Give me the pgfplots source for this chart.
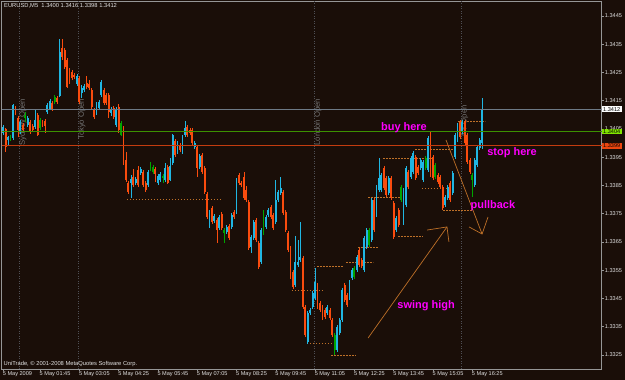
\documentclass[border=0pt]{standalone}
\usepackage{pgfplots}
\pgfplotsset{compat=1.18}
\usepackage{pgfplotstable}
\usepackage{fontspec}
\setmainfont{Liberation Sans}
\definecolor{bgc}{RGB}{26,14,8}
\definecolor{bullc}{RGB}{32,182,226}
\definecolor{bearc}{RGB}{250,76,14}
\definecolor{dojic}{RGB}{0,165,0}
\definecolor{framec}{RGB}{150,150,150}
\definecolor{txtc}{RGB}{225,225,225}
\definecolor{sessc}{RGB}{80,80,85}
\definecolor{sesstxt}{RGB}{115,115,115}
\definecolor{annc}{RGB}{190,112,40}
\definecolor{bidc}{RGB}{110,122,134}
\definecolor{buyc}{RGB}{60,145,0}
\definecolor{stopc}{RGB}{195,60,15}
\definecolor{magc}{RGB}{255,0,255}
\definecolor{buybox}{RGB}{130,230,0}
\definecolor{stopbox}{RGB}{235,70,15}

% bull candles: t open high low close
\pgfplotstableread{
t o h l c
6 1.34036 1.34064 1.34029 1.34057
8 1.34011 1.34025 1.33993 1.34022
10 1.34018 1.34138 1.34011 1.34135
13 1.34039 1.34082 1.34032 1.34075
16 1.34064 1.34096 1.34057 1.34089
19 1.34057 1.34117 1.34050 1.34082
24 1.34110 1.34142 1.34103 1.34135
25 1.34121 1.34156 1.34117 1.34149
29 1.34167 1.34369 1.34163 1.34323
36 1.34209 1.34245 1.34202 1.34238
38 1.34177 1.34206 1.34160 1.34195
39 1.34188 1.34209 1.34181 1.34202
44 1.34107 1.34146 1.34100 1.34135
45 1.34124 1.34153 1.34117 1.34146
46 1.34170 1.34223 1.34163 1.34216
50 1.34107 1.34128 1.34096 1.34121
52 1.34064 1.34128 1.34057 1.34121
58 1.33859 1.33887 1.33806 1.33873
60 1.33859 1.33880 1.33852 1.33873
62 1.33894 1.33915 1.33887 1.33908
65 1.33852 1.33905 1.33845 1.33898
69 1.33859 1.33891 1.33852 1.33884
70 1.33869 1.33898 1.33862 1.33891
72 1.33869 1.33930 1.33862 1.33912
74 1.33869 1.33947 1.33866 1.33919
75 1.33930 1.34032 1.33923 1.34029
77 1.33969 1.34007 1.33961 1.34000
79 1.33969 1.34029 1.33961 1.34022
80 1.34029 1.34078 1.34022 1.34053
84 1.33986 1.34007 1.33979 1.34000
86 1.33915 1.33961 1.33908 1.33954
90 1.33728 1.33763 1.33699 1.33756
92 1.33724 1.33749 1.33717 1.33742
94 1.33699 1.33746 1.33692 1.33738
97 1.33685 1.33710 1.33678 1.33703
99 1.33703 1.33753 1.33696 1.33746
101 1.33756 1.33876 1.33749 1.33869
107 1.33632 1.33675 1.33611 1.33668
108 1.33664 1.33728 1.33657 1.33721
111 1.33579 1.33699 1.33572 1.33692
113 1.33703 1.33746 1.33696 1.33738
114 1.33746 1.33770 1.33738 1.33763
117 1.33721 1.33869 1.33714 1.33799
118 1.33799 1.33834 1.33792 1.33827
119 1.33823 1.33880 1.33816 1.33841
125 1.33498 1.33671 1.33491 1.33579
126 1.33569 1.33657 1.33561 1.33579
127 1.33586 1.33721 1.33579 1.33597
130 1.33296 1.33406 1.33289 1.33399
131 1.33399 1.33416 1.33392 1.33409
132 1.33420 1.33476 1.33413 1.33469
133 1.33452 1.33558 1.33445 1.33508
138 1.33399 1.33427 1.33392 1.33420
142 1.33268 1.33356 1.33261 1.33349
143 1.33328 1.33381 1.33321 1.33374
144 1.33374 1.33487 1.33367 1.33480
147 1.33452 1.33515 1.33445 1.33508
148 1.33522 1.33558 1.33515 1.33551
150 1.33551 1.33604 1.33544 1.33597
153 1.33551 1.33671 1.33544 1.33664
154 1.33632 1.33699 1.33625 1.33692
156 1.33657 1.33806 1.33650 1.33799
158 1.33746 1.33852 1.33738 1.33845
159 1.33834 1.33947 1.33827 1.33876
160 1.33834 1.33894 1.33827 1.33887
163 1.33823 1.33884 1.33816 1.33876
166 1.33692 1.33742 1.33685 1.33735
169 1.33717 1.33841 1.33710 1.33834
170 1.33781 1.33919 1.33774 1.33912
172 1.33880 1.33954 1.33873 1.33947
173 1.33898 1.33972 1.33891 1.33965
176 1.33912 1.33947 1.33905 1.33940
177 1.33869 1.33940 1.33862 1.33933
179 1.33905 1.34025 1.33898 1.34018
186 1.33781 1.33816 1.33774 1.33809
187 1.33806 1.33852 1.33799 1.33845
189 1.33823 1.33901 1.33816 1.33894
190 1.33951 1.34036 1.33944 1.34029
191 1.34011 1.34071 1.34004 1.34064
193 1.34039 1.34082 1.34032 1.34075
198 1.33852 1.33947 1.33845 1.33940
199 1.33923 1.33993 1.33915 1.33986
200 1.33983 1.34018 1.33976 1.34011
201 1.34000 1.34160 1.33980 1.34120
}\bullT

% bear candles
\pgfplotstableread{
t o h l c
7 1.34050 1.34053 1.33969 1.33986
11 1.34124 1.34131 1.34100 1.34107
12 1.34089 1.34096 1.34022 1.34046
14 1.34064 1.34071 1.34039 1.34046
17 1.34075 1.34082 1.34032 1.34039
18 1.34061 1.34068 1.34039 1.34046
20 1.34100 1.34107 1.34025 1.34029
22 1.34078 1.34082 1.34057 1.34064
23 1.34078 1.34085 1.34036 1.34061
26 1.34142 1.34149 1.34114 1.34121
28 1.34160 1.34167 1.34138 1.34146
30 1.34337 1.34369 1.34294 1.34305
31 1.34330 1.34337 1.34262 1.34269
32 1.34294 1.34301 1.34195 1.34199
33 1.34234 1.34266 1.34209 1.34216
34 1.34252 1.34259 1.34223 1.34230
35 1.34241 1.34248 1.34227 1.34234
37 1.34230 1.34238 1.34138 1.34146
40 1.34213 1.34238 1.34192 1.34199
41 1.34209 1.34223 1.34188 1.34195
42 1.34188 1.34195 1.34117 1.34128
43 1.34117 1.34124 1.34085 1.34092
47 1.34188 1.34195 1.34135 1.34142
48 1.34170 1.34177 1.34135 1.34142
49 1.34170 1.34177 1.34089 1.34110
51 1.34124 1.34131 1.34085 1.34092
53 1.34128 1.34138 1.34036 1.34046
55 1.34053 1.34061 1.33923 1.33930
56 1.33940 1.33969 1.33862 1.33869
57 1.33859 1.33866 1.33820 1.33827
59 1.33880 1.33908 1.33845 1.33852
61 1.33905 1.33919 1.33845 1.33852
63 1.33898 1.33905 1.33845 1.33852
64 1.33859 1.33866 1.33827 1.33834
68 1.33908 1.33915 1.33862 1.33891
73 1.33915 1.33923 1.33855 1.33859
76 1.34007 1.34015 1.33951 1.33958
78 1.33993 1.34000 1.33969 1.33976
81 1.34057 1.34064 1.34022 1.34029
82 1.34046 1.34053 1.34029 1.34036
83 1.34046 1.34053 1.33993 1.34000
85 1.33986 1.33993 1.33880 1.33912
87 1.33958 1.33965 1.33891 1.33898
88 1.33912 1.33919 1.33820 1.33827
89 1.33820 1.33827 1.33731 1.33738
91 1.33770 1.33777 1.33714 1.33721
93 1.33728 1.33735 1.33646 1.33692
95 1.33749 1.33756 1.33692 1.33699
98 1.33707 1.33714 1.33657 1.33664
100 1.33756 1.33763 1.33731 1.33738
102 1.33887 1.33894 1.33852 1.33859
103 1.33859 1.33866 1.33845 1.33852
104 1.33880 1.33898 1.33799 1.33806
105 1.33834 1.33848 1.33792 1.33799
106 1.33792 1.33799 1.33622 1.33629
109 1.33728 1.33735 1.33650 1.33657
110 1.33646 1.33653 1.33554 1.33561
115 1.33774 1.33781 1.33731 1.33738
116 1.33746 1.33753 1.33692 1.33699
120 1.33827 1.33834 1.33746 1.33753
121 1.33756 1.33763 1.33685 1.33692
122 1.33682 1.33689 1.33615 1.33622
123 1.33629 1.33636 1.33519 1.33526
124 1.33544 1.33551 1.33484 1.33491
128 1.33593 1.33600 1.33413 1.33420
129 1.33420 1.33427 1.33314 1.33321
134 1.33498 1.33505 1.33413 1.33420
135 1.33434 1.33441 1.33402 1.33409
136 1.33420 1.33427 1.33374 1.33381
137 1.33409 1.33416 1.33377 1.33384
139 1.33409 1.33416 1.33374 1.33381
140 1.33374 1.33381 1.33314 1.33321
145 1.33498 1.33505 1.33438 1.33445
146 1.33462 1.33469 1.33420 1.33427
151 1.33622 1.33629 1.33561 1.33569
152 1.33586 1.33593 1.33558 1.33565
157 1.33799 1.33806 1.33685 1.33692
161 1.33912 1.33919 1.33834 1.33841
162 1.33876 1.33884 1.33809 1.33816
164 1.33876 1.33884 1.33799 1.33806
165 1.33788 1.33795 1.33661 1.33668
167 1.33763 1.33770 1.33703 1.33710
171 1.33898 1.33905 1.33838 1.33845
174 1.33951 1.33958 1.33869 1.33876
175 1.33915 1.33923 1.33887 1.33894
180 1.34036 1.34043 1.33880 1.33887
181 1.33951 1.33958 1.33869 1.33876
183 1.33887 1.33894 1.33855 1.33862
184 1.33880 1.33887 1.33838 1.33845
185 1.33845 1.33852 1.33763 1.33770
188 1.33859 1.33866 1.33792 1.33799
192 1.34075 1.34082 1.34015 1.34022
194 1.34075 1.34082 1.33993 1.34000
195 1.34029 1.34036 1.33926 1.33933
196 1.33940 1.33947 1.33891 1.33898
}\bearT

% green (doji-like) candles
\pgfplotstableread{
t o h l c
9 1.34011 1.34029 1.34007 1.34018
15 1.34089 1.34110 1.34075 1.34100
21 1.34053 1.34089 1.34046 1.34082
27 1.34146 1.34170 1.34138 1.34163
54 1.34029 1.34078 1.34025 1.34071
66 1.33908 1.33933 1.33901 1.33926
67 1.33898 1.33923 1.33891 1.33915
71 1.33876 1.33891 1.33859 1.33884
96 1.33682 1.33699 1.33646 1.33692
112 1.33699 1.33763 1.33675 1.33738
141 1.33268 1.33328 1.33250 1.33321
149 1.33526 1.33565 1.33519 1.33558
155 1.33639 1.33699 1.33632 1.33692
168 1.33799 1.33852 1.33792 1.33845
178 1.33912 1.33954 1.33905 1.33947
182 1.33880 1.33930 1.33873 1.33923
197 1.33869 1.33894 1.33809 1.33887
}\dojiT

\pgfplotsset{
  wick/.style={forget plot, draw=none, mark=none,
    error bars/.cd, y dir=both, y explicit, error mark=none,
    error bar style={draw=#1, line width=0.6bp}},
  body/.style={forget plot, draw=none, mark=none,
    error bars/.cd, y dir=both, y explicit, error mark=none,
    error bar style={draw=#1, line width=1.9bp}},
}

\begin{document}
\begin{tikzpicture}
\fill[bgc] (0,0) rectangle (625bp,380bp);
\useasboundingbox (0,0) rectangle (625bp,380bp);
\begin{axis}[
  at={(1.5bp,11bp)}, anchor=south west,
  width=600.2bp, height=368bp, scale only axis,
  xmin=5.32, xmax=249.7, ymin=1.33200, ymax=1.34503,
  clip=false,
  axis line style={draw=framec, line width=0.6bp},
  tick style={draw=framec, line width=0.5bp},
  major tick length=2bp,
  tick align=outside,
  xtick pos=bottom, xticklabel pos=bottom,
  ytick pos=right, yticklabel pos=right,
  xtick={6,21,37,53,69,85,101,117,133,149,165,181,197},
  xticklabels={5 May 2009,5 May 01:45,5 May 03:05,5 May 04:25,5 May 05:45,5 May 07:05,5 May 08:25,5 May 09:45,5 May 11:05,5 May 12:25,5 May 13:45,5 May 15:05,5 May 16:25},
  ytick={1.3325,1.3335,1.3345,1.3355,1.3365,1.3375,1.3385,1.3395,1.3405,1.3415,1.3425,1.3435,1.3445},
  yticklabels={1.3325,1.3335,1.3345,1.3355,1.3365,1.3375,1.3385,1.3395,1.3405,1.3415,1.3425,1.3435,1.3445},
  xticklabel style={anchor=north west, font=\fontsize{5.6}{6}\selectfont, text=txtc, inner sep=0.5bp, xshift=-1bp},
  yticklabel style={anchor=west, font=\fontsize{5.6}{6}\selectfont, text=txtc, inner sep=1bp},
  /pgf/number format/assume math mode=true,
]
% session lines
\addplot[forget plot, sessc, line width=0.6bp, dash pattern=on 1bp off 1.5bp, unbounded coords=jump]
  coordinates {(12.45,1.33200) (12.45,1.34503) (12.45,nan)
               (36.5,1.33200) (36.5,1.34503) (36.5,nan)
               (132.6,1.33200) (132.6,1.34503) (132.6,nan)
               (192.4,1.33200) (192.4,1.34503)};
\node[rotate=90, anchor=north east, inner sep=0pt, text=sesstxt, font=\fontsize{7.7}{8}\selectfont, xshift=1.2bp] at (axis cs:12.45,1.34153) {Sydney Open};
\node[rotate=90, anchor=north east, inner sep=0pt, text=sesstxt, font=\fontsize{7.7}{8}\selectfont, xshift=1.2bp] at (axis cs:36.5,1.34153) {Tokyo Open};
\node[rotate=90, anchor=north east, inner sep=0pt, text=sesstxt, font=\fontsize{7.7}{8}\selectfont, xshift=1.2bp] at (axis cs:132.6,1.34153) {London Open};
\node[rotate=90, anchor=north east, inner sep=0pt, text=sesstxt, font=\fontsize{7.7}{8}\selectfont, xshift=1.2bp] at (axis cs:192.4,1.34130) {NY Open};

% dashed swing levels
\addplot[forget plot, annc, line width=0.7bp, dash pattern=on 1.5bp off 1.5bp, unbounded coords=jump]
  coordinates {(56.4,1.33802) (94.7,1.33802) (94.7,nan)
               (123.6,1.33480) (137.0,1.33480) (137.0,nan)
               (129.7,1.33292) (140.3,1.33292) (140.3,nan)
               (133.8,1.33565) (144.4,1.33565) (144.4,nan)
               (139.5,1.33250) (149.3,1.33250) (149.3,nan)
               (145.6,1.33579) (156.6,1.33579) (156.6,nan)
               (150.5,1.33632) (158.6,1.33632) (158.6,nan)
               (154.6,1.33809) (168.4,1.33809) (168.4,nan)
               (160.7,1.33947) (180.6,1.33947) (180.6,nan)
               (166.8,1.33668) (176.9,1.33668) (176.9,nan)
               (173.7,1.33979) (190.0,1.33979) (190.0,nan)
               (176.5,1.33838) (187.9,1.33838) (187.9,nan)
               (185.1,1.33763) (197.3,1.33763) (197.3,nan)
               (191.2,1.34078) (202.2,1.34078)};

% candles
\addplot[wick=bullc] table[x=t, y expr={0.5*(\thisrow{h}+\thisrow{l})}, y error expr={0.5*(\thisrow{h}-\thisrow{l})}] {\bullT};
\addplot[wick=bearc] table[x=t, y expr={0.5*(\thisrow{h}+\thisrow{l})}, y error expr={0.5*(\thisrow{h}-\thisrow{l})}] {\bearT};
\addplot[wick=dojic] table[x=t, y expr={0.5*(\thisrow{h}+\thisrow{l})}, y error expr={0.5*(\thisrow{h}-\thisrow{l})}] {\dojiT};
\addplot[body=bullc] table[x=t, y expr={0.5*(\thisrow{o}+\thisrow{c})}, y error expr={0.5*abs(\thisrow{c}-\thisrow{o})}] {\bullT};
\addplot[body=bearc] table[x=t, y expr={0.5*(\thisrow{o}+\thisrow{c})}, y error expr={0.5*abs(\thisrow{c}-\thisrow{o})}] {\bearT};
\addplot[body=dojic] table[x=t, y expr={0.5*(\thisrow{o}+\thisrow{c})}, y error expr={0.5*abs(\thisrow{c}-\thisrow{o})}] {\dojiT};

% horizontal price lines
\addplot[forget plot, bidc, line width=0.8bp] coordinates {(5.32,1.3412) (249.7,1.3412)};
\addplot[forget plot, buyc, line width=1.1bp] coordinates {(5.32,1.3404) (249.7,1.3404)};
\addplot[forget plot, stopc, line width=0.8bp] coordinates {(5.32,1.3399) (249.7,1.3399)};

% arrows
\addplot[forget plot, annc, line width=0.7bp] coordinates {(154.6,1.33310) (186.7,1.33703)};
\addplot[forget plot, annc, line width=0.7bp] coordinates {(178.6,1.33692) (186.7,1.33703) (187.5,1.33650)};
\addplot[forget plot, annc, line width=0.7bp] coordinates {(186.3,1.34011) (201.0,1.33678)};
\addplot[forget plot, annc, line width=0.7bp] coordinates {(195.7,1.33703) (201.0,1.33678) (203.4,1.33738)};

% annotations
\node[text=magc, font=\bfseries\fontsize{11}{12}\selectfont, inner sep=0pt] at (axis cs:169.2,1.34054) {buy here};
\node[text=magc, font=\bfseries\fontsize{11}{12}\selectfont, inner sep=0pt] at (axis cs:213.2,1.33965) {stop here};
\node[text=magc, font=\bfseries\fontsize{11}{12}\selectfont, inner sep=0pt] at (axis cs:205.4,1.33777) {pullback};
\node[text=magc, font=\bfseries\fontsize{11}{12}\selectfont, inner sep=0pt] at (axis cs:178.2,1.33423) {swing high};

\node[anchor=north west, inner sep=0pt, text=txtc, font=\fontsize{5.8}{6}\selectfont] at ([xshift=2.5bp,yshift=-2.5bp]rel axis cs:0,1) {EURUSD,M5\ \ 1.3400 1.3416 1.3398 1.3412};
\node[anchor=south west, inner sep=0pt, text=txtc, font=\fontsize{5.8}{6}\selectfont] at ([xshift=2bp,yshift=2bp]rel axis cs:0,0) {UniTrade, © 2001-2008 MetaQuotes Software Corp.};

\coordinate (bidpt) at (axis cs:249.7,1.3412);
\coordinate (buypt) at (axis cs:249.7,1.3404);
\coordinate (stoppt) at (axis cs:249.7,1.3399);
\end{axis}
\node[anchor=west, fill=white, text=black, inner xsep=1.3bp, inner ysep=0.7bp, font=\fontsize{5.6}{6}\selectfont] at (bidpt) {1.3412};
\node[anchor=west, fill=buybox, text=black, inner xsep=1.3bp, inner ysep=0.7bp, font=\fontsize{5.6}{6}\selectfont] at (buypt) {1.3404};
\node[anchor=west, fill=stopbox, text=black, inner xsep=1.3bp, inner ysep=0.7bp, font=\fontsize{5.6}{6}\selectfont] at (stoppt) {1.3399};
\end{tikzpicture}
\end{document}
